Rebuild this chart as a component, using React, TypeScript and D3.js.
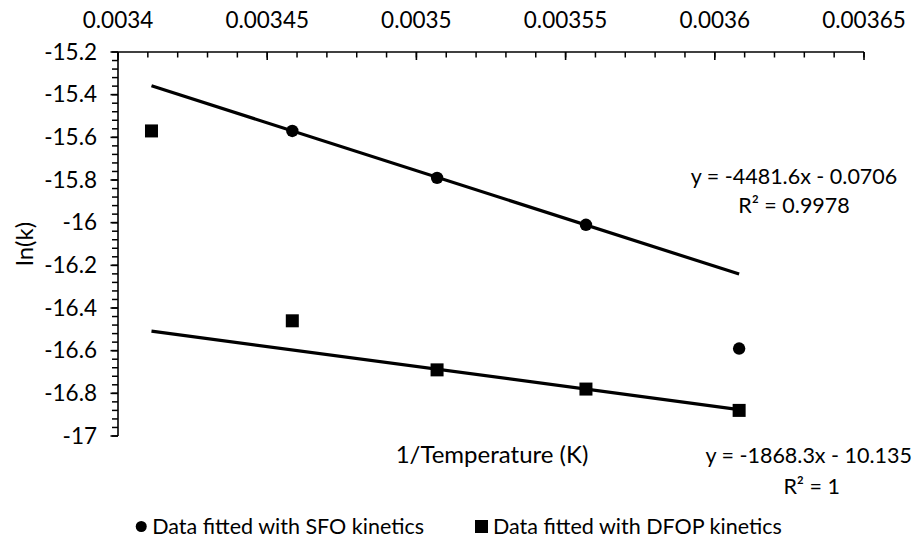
import React, { useLayoutEffect, useRef, useState } from "react";
import * as d3 from "d3";

// Incubation temperatures (K); the x axis shows 1/T
const temperaturesK = [293.15, 289.15, 285.15, 281.15, 277.15];

// ln(k) from each kinetic model (null = no value)
const sfoLnK: (number | null)[] = [null, -15.57, -15.79, -16.01, -16.59];
const dfopLnK: (number | null)[] = [-15.57, -16.46, -16.69, -16.78, -16.88];

// Linear trendlines reported for each series
const sfoFit = { slope: -4481.6, intercept: -0.0706, eq: "y = -4481.6x - 0.0706", r2: "R² = 0.9978" };
const dfopFit = { slope: -1868.3, intercept: -10.135, eq: "y = -1868.3x - 10.135", r2: "R² = 1" };

// Axis ticks
const xTickValues = [0.0034, 0.00345, 0.0035, 0.00355, 0.0036, 0.00365];
const xTickLabels = ["0.0034", "0.00345", "0.0035", "0.00355", "0.0036", "0.00365"];
const yTickValues = [-17, -16.8, -16.6, -16.4, -16.2, -16, -15.8, -15.6, -15.4, -15.2];
const yTickLabels = ["-17", "-16.8", "-16.6", "-16.4", "-16.2", "-16", "-15.8", "-15.6", "-15.4", "-15.2"];

const seriesNames = ["Data fitted with SFO kinetics", "Data fitted with DFOP kinetics"];

const W = 917;
const H = 540;
const FONT = "Lato, 'Open Sans', sans-serif";
const FS_TICK = 22.5;
const FS_TITLE = 24;
const FS_EQ = 21.5;
const FS_LEGEND = 21.5;

export default function App() {
  const x = d3.scaleLinear().domain([0.0034, 0.00365]).range([118, 864]);
  const y = d3.scaleLinear().domain([-17, -15.2]).range([436, 52]);

  // legend: first entry is right-aligned, its marker sits left of the measured text
  const legendTextRef = useRef<SVGTextElement>(null);
  const [legendStart, setLegendStart] = useState(154);
  useLayoutEffect(() => {
    if (legendTextRef.current) {
      const b = legendTextRef.current.getBBox();
      setLegendStart(b.x);
    }
  }, []);

  const invT = temperaturesK.map((t) => 1 / t);
  const xMin = d3.min(invT) as number;
  const xMax = d3.max(invT) as number;

  const xMinor = d3.range(0, 26).map((i) => 0.0034 + i * 0.00001);
  const yMinor = d3.range(0, 46).map((i) => -17 + i * 0.04);

  const fitLine = (f: { slope: number; intercept: number }) =>
    d3.line<number>().x((v) => x(v)).y((v) => y(f.slope * v + f.intercept))([xMin, xMax]) as string;

  const sfoPts = invT
    .map((v, i) => ({ v, k: sfoLnK[i] }))
    .filter((p) => p.k !== null) as { v: number; k: number }[];
  const dfopPts = invT
    .map((v, i) => ({ v, k: dfopLnK[i] }))
    .filter((p) => p.k !== null) as { v: number; k: number }[];

  const sq = 13;
  const r = 6.2;
  const axisTop = y(-15.2);
  const axisLeft = x(0.0034);

  return (
    <svg
      width={W}
      height={H}
      style={{ position: "absolute", left: 0, top: 0, background: "#fff" }}
      fontFamily={FONT}
    >
      <rect width={W} height={H} fill="#fff" />

      {/* top x axis */}
      <line x1={axisLeft} x2={x(0.00365)} y1={axisTop} y2={axisTop} stroke="#000" strokeWidth={1.6} />
      {xMinor.map((v, i) => (
        <line key={"xm" + i} x1={x(v)} x2={x(v)} y1={axisTop} y2={axisTop + 5.5} stroke="#000" strokeWidth={1.5} />
      ))}
      {xTickValues.map((v, i) => (
        <g key={"xt" + i}>
          <line x1={x(v)} x2={x(v)} y1={axisTop} y2={axisTop + 8} stroke="#000" strokeWidth={1.6} />
          <text x={x(v)} y={28} textAnchor="middle" fontSize={FS_TICK} fill="#000">
            {xTickLabels[i]}
          </text>
        </g>
      ))}

      {/* left y axis */}
      <line x1={axisLeft} x2={axisLeft} y1={axisTop} y2={y(-17)} stroke="#000" strokeWidth={1.6} />
      {yMinor.map((v, i) => (
        <line key={"ym" + i} x1={axisLeft - 6} x2={axisLeft} y1={y(v)} y2={y(v)} stroke="#000" strokeWidth={1.5} />
      ))}
      {yTickValues.map((v, i) => (
        <g key={"yt" + i}>
          <line x1={axisLeft - 7.5} x2={axisLeft} y1={y(v)} y2={y(v)} stroke="#000" strokeWidth={1.6} />
          <text x={97} y={y(v) + 7.8} textAnchor="end" fontSize={FS_TICK} fill="#000">
            {yTickLabels[i]}
          </text>
        </g>
      ))}

      {/* axis titles */}
      <text transform="translate(33,244) rotate(-90)" textAnchor="middle" fontSize={FS_TITLE} fill="#000">
        ln(k)
      </text>
      <text x={492} y={463} textAnchor="middle" fontSize={FS_TITLE} fill="#000">
        1/Temperature (K)
      </text>

      {/* trendlines */}
      <path d={fitLine(sfoFit)} fill="none" stroke="#000" strokeWidth={3.2} />
      <path d={fitLine(dfopFit)} fill="none" stroke="#000" strokeWidth={3.2} />

      {/* markers */}
      {sfoPts.map((p, i) => (
        <circle key={"c" + i} cx={x(p.v)} cy={y(p.k)} r={r} fill="#000" />
      ))}
      {dfopPts.map((p, i) => (
        <rect key={"s" + i} x={x(p.v) - sq / 2} y={y(p.k) - sq / 2} width={sq} height={sq} fill="#000" />
      ))}

      {/* trendline equations */}
      <text x={794} y={184} textAnchor="middle" fontSize={FS_EQ} fill="#000">{sfoFit.eq}</text>
      <text x={794} y={213} textAnchor="middle" fontSize={FS_EQ} fill="#000">{sfoFit.r2}</text>
      <text x={912} y={463} textAnchor="end" fontSize={FS_EQ} fill="#000">{dfopFit.eq}</text>
      <text x={840} y={494} textAnchor="end" fontSize={FS_EQ} fill="#000">{dfopFit.r2}</text>

      {/* legend */}
      <circle cx={legendStart - 11} cy={526.5} r={5.5} fill="#000" />
      <text ref={legendTextRef} x={424} y={534} textAnchor="end" fontSize={FS_LEGEND} fill="#000">
        {seriesNames[0]}
      </text>
      <rect x={475} y={520} width={13} height={13} fill="#000" />
      <text x={493} y={534} fontSize={FS_LEGEND} fill="#000">{seriesNames[1]}</text>
    </svg>
  );
}
